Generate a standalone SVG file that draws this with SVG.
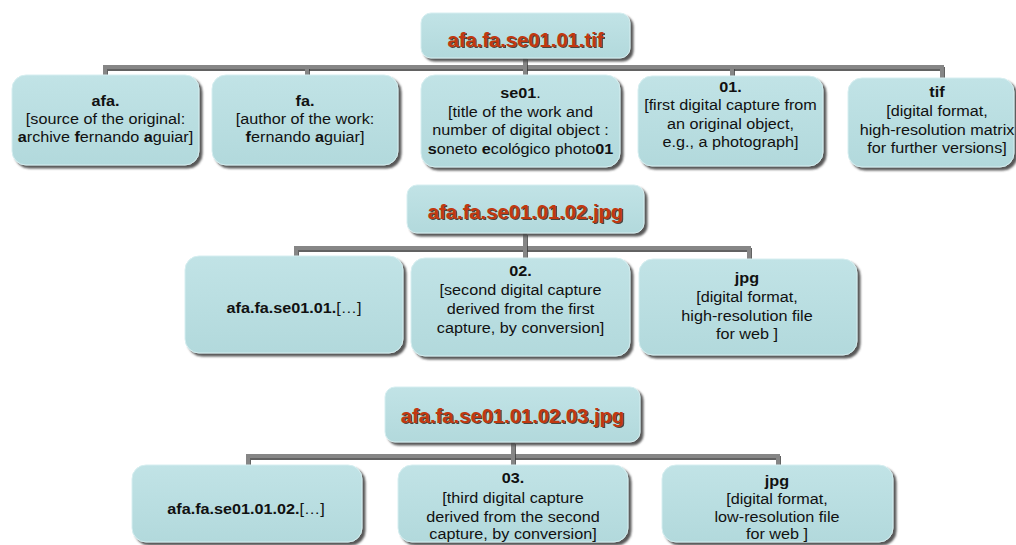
<svg xmlns="http://www.w3.org/2000/svg" width="1016" height="545" viewBox="0 0 1016 545">
<defs>
<filter id="sh" filterUnits="userSpaceOnUse" x="0" y="0" width="1016" height="545">
<feGaussianBlur in="SourceAlpha" stdDeviation="1.3" result="b"/>
<feOffset in="b" dx="3" dy="3" result="o"/>
<feFlood flood-color="#454545" flood-opacity="0.9"/>
<feComposite in2="o" operator="in" result="s"/>
<feMerge><feMergeNode in="s"/><feMergeNode in="SourceGraphic"/></feMerge>
</filter>
<filter id="csh" filterUnits="userSpaceOnUse" x="0" y="0" width="1016" height="545">
<feOffset in="SourceAlpha" dx="1" dy="1.5" result="o"/>
<feFlood flood-color="#3c3c3c" flood-opacity="0.8"/>
<feComposite in2="o" operator="in" result="s"/>
<feMerge><feMergeNode in="s"/><feMergeNode in="SourceGraphic"/></feMerge>
</filter>
<linearGradient id="bg" x1="0" y1="0" x2="0" y2="1">
<stop offset="0" stop-color="#c1e3e6"/>
<stop offset="1" stop-color="#b2d9dc"/>
</linearGradient>
</defs>
<style>
.box{fill:url(#bg);stroke:#d6eef0;stroke-width:1;filter:url(#sh)}
.t{font-family:"Liberation Sans",Arial,sans-serif;font-size:14.6px;fill:#111;text-anchor:middle}
.b{font-weight:bold}
.rt{font-family:"Liberation Sans",Arial,sans-serif;font-size:20px;font-weight:bold;fill:#c2380f;text-anchor:middle}
.rs{fill:#2e2018;opacity:0.8}
.con{fill:none;stroke:#868686;stroke-width:4;filter:url(#csh)}
</style>
<rect width="1016" height="545" fill="#ffffff"/>

<g id="connectors">
<path class="con" d="M105,76 V67 H942 V79"/>
<path class="con" d="M307,67 V76"/>
<path class="con" d="M525,57 V76"/>
<path class="con" d="M732,67 V77"/>
<path class="con" d="M296,256 V248 H749 V259"/>
<path class="con" d="M525,233 V258"/>
<path class="con" d="M248,465 V456 H778 V465"/>
<path class="con" d="M513,442 V465"/>
</g>

<g id="root1">
<rect class="box" x="421" y="13" width="209" height="45" rx="10"/>
<g transform="translate(525.5,0) scale(1.01,1)">
<text class="rt rs" x="1.4" y="48.4">afa.fa.se01.01.tif</text>
<text class="rt" x="0" y="47">afa.fa.se01.01.tif</text>
</g>
</g>

<g id="n-afa">
<rect class="box" x="12" y="75" width="187" height="90" rx="14"/>
<g transform="translate(105.5,0) scale(1.11,1)">
<text class="t b" x="0" y="106">afa.</text>
<text class="t" x="0" y="124">[source of the original:</text>
<text class="t" x="0" y="142"><tspan class="b">a</tspan>rchive <tspan class="b">f</tspan>ernando <tspan class="b">a</tspan>guiar]</text>
</g>
</g>

<g id="n-fa">
<rect class="box" x="212" y="75" width="186" height="90" rx="14"/>
<g transform="translate(305,0) scale(1.11,1)">
<text class="t b" x="0" y="106">fa.</text>
<text class="t" x="0" y="124">[author of the work:</text>
<text class="t" x="0" y="142"><tspan class="b">f</tspan>ernando <tspan class="b">a</tspan>guiar]</text>
</g>
</g>

<g id="n-se01">
<rect class="box" x="421" y="75" width="199" height="92" rx="14"/>
<g transform="translate(520.5,0) scale(1.11,1)">
<text class="t" x="0" y="98"><tspan class="b">se01</tspan>.</text>
<text class="t" x="0" y="117">[title of the work and</text>
<text class="t" x="0" y="135">number of digital object :</text>
<text class="t" x="0" y="154"><tspan class="b">s</tspan>oneto <tspan class="b">e</tspan>cológico photo<tspan class="b">01</tspan></text>
</g>
</g>

<g id="n-01">
<rect class="box" x="638" y="76" width="185" height="90" rx="14"/>
<g transform="translate(730.5,0) scale(1.11,1)">
<text class="t b" x="0" y="92">01.</text>
<text class="t" x="0" y="110">[first digital capture from</text>
<text class="t" x="0" y="129">an original object,</text>
<text class="t" x="0" y="147">e.g., a photograph]</text>
</g>
</g>

<g id="n-tif">
<rect class="box" x="848" y="78" width="166" height="89" rx="14"/>
<g transform="translate(937,0) scale(1.11,1)">
<text class="t b" x="0" y="97">tif</text>
<text class="t" x="0" y="116">[digital format,</text>
<text class="t" x="0" y="135">high-resolution matrix</text>
<text class="t" x="0" y="153">for further versions]</text>
</g>
</g>

<g id="root2">
<rect class="box" x="407" y="185" width="237" height="48" rx="10"/>
<g transform="translate(525.5,0) scale(1.01,1)">
<text class="rt rs" x="1.4" y="220.4">afa.fa.se01.01.02.jpg</text>
<text class="rt" x="0" y="219">afa.fa.se01.01.02.jpg</text>
</g>
</g>

<g id="n2-prefix">
<rect class="box" x="185" y="256" width="218" height="97" rx="14"/>
<g transform="translate(294,0) scale(1.11,1)">
<text class="t" x="0" y="313"><tspan class="b">afa.fa.se01.01.</tspan>[…]</text>
</g>
</g>

<g id="n2-02">
<rect class="box" x="411" y="258" width="219" height="98" rx="14"/>
<g transform="translate(520.5,0) scale(1.11,1)">
<text class="t b" x="0" y="276">02.</text>
<text class="t" x="0" y="295">[second digital capture</text>
<text class="t" x="0" y="314">derived from the first</text>
<text class="t" x="0" y="333">capture, by conversion]</text>
</g>
</g>

<g id="n2-jpg">
<rect class="box" x="639" y="259" width="218" height="96" rx="14"/>
<g transform="translate(747,0) scale(1.11,1)">
<text class="t b" x="0" y="283">jpg</text>
<text class="t" x="0" y="302">[digital format,</text>
<text class="t" x="0" y="321">high-resolution file</text>
<text class="t" x="0" y="339">for web ]</text>
</g>
</g>

<g id="root3">
<rect class="box" x="385" y="387" width="255" height="55" rx="10"/>
<g transform="translate(512.5,0) scale(1.01,1)">
<text class="rt rs" x="1.4" y="424.4">afa.fa.se01.01.02.03.jpg</text>
<text class="rt" x="0" y="423">afa.fa.se01.01.02.03.jpg</text>
</g>
</g>

<g id="n3-prefix">
<rect class="box" x="132" y="465" width="230" height="77" rx="14"/>
<g transform="translate(246,0) scale(1.11,1)">
<text class="t" x="0" y="514"><tspan class="b">afa.fa.se01.01.02.</tspan>[…]</text>
</g>
</g>

<g id="n3-03">
<rect class="box" x="398" y="465" width="230" height="77" rx="14"/>
<g transform="translate(513,0) scale(1.11,1)">
<text class="t b" x="0" y="483">03.</text>
<text class="t" x="0" y="503">[third digital capture</text>
<text class="t" x="0" y="522">derived from the second</text>
<text class="t" x="0" y="539">capture, by conversion]</text>
</g>
</g>

<g id="n3-jpg">
<rect class="box" x="662" y="465" width="231" height="77" rx="14"/>
<g transform="translate(777,0) scale(1.11,1)">
<text class="t b" x="0" y="486">jpg</text>
<text class="t" x="0" y="504">[digital format,</text>
<text class="t" x="0" y="522">low-resolution file</text>
<text class="t" x="0" y="539">for web ]</text>
</g>
</g>
</svg>
